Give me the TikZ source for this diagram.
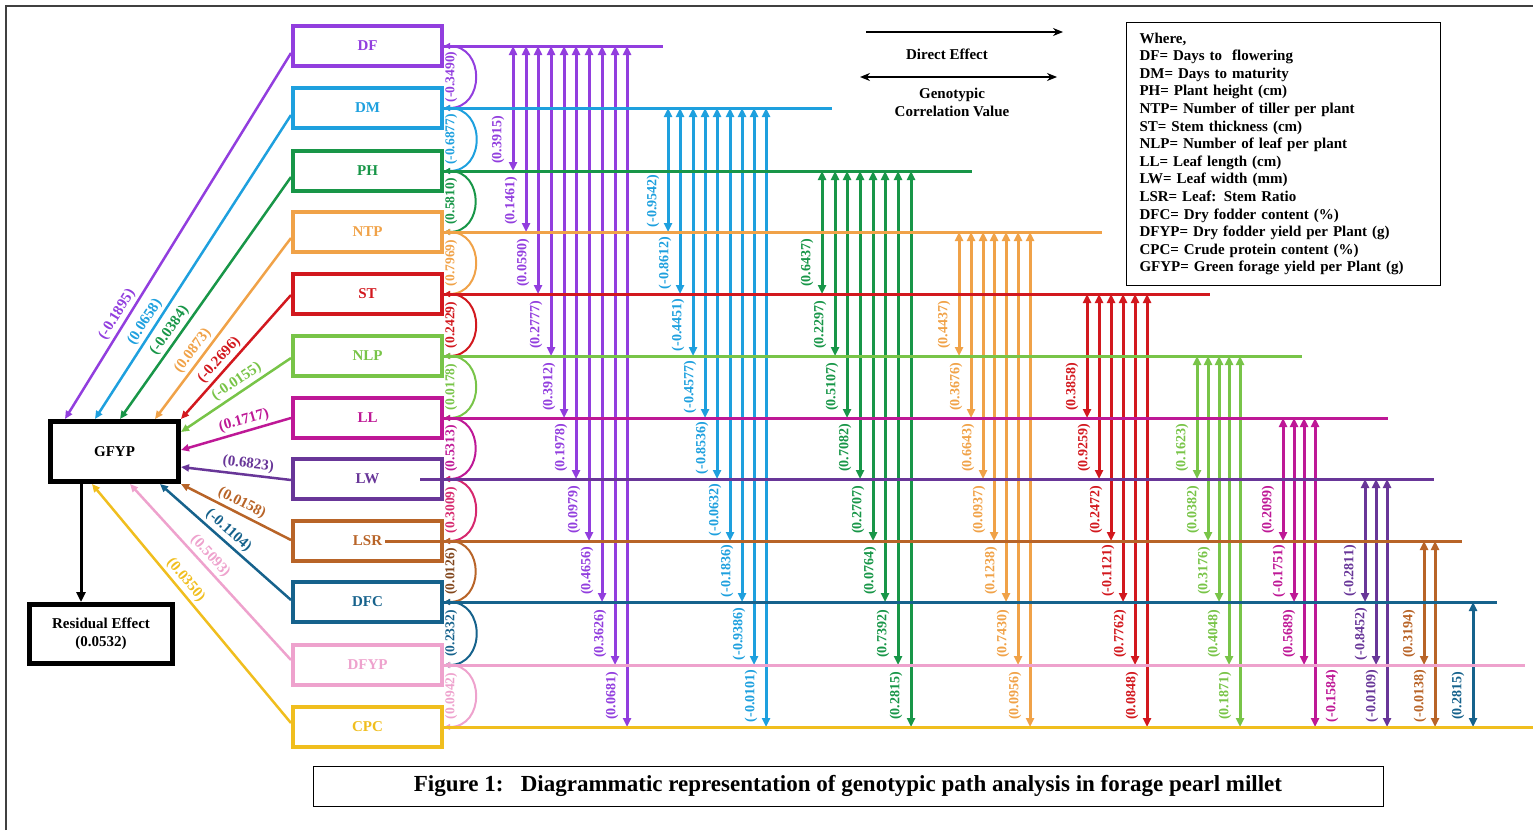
\documentclass[tikz,border=0pt]{standalone}
\usepackage{fontspec}
\setmainfont{Liberation Serif}
\usetikzlibrary{arrows.meta}
\usetikzlibrary{calc}
\definecolor{cDF}{RGB}{146,62,222}
\definecolor{cDM}{RGB}{30,160,222}
\definecolor{cPH}{RGB}{24,150,72}
\definecolor{cNTP}{RGB}{240,162,72}
\definecolor{cST}{RGB}{210,24,30}
\definecolor{cNLP}{RGB}{120,196,72}
\definecolor{cLL}{RGB}{190,24,150}
\definecolor{cLW}{RGB}{104,54,152}
\definecolor{cLWarc}{RGB}{214,40,110}
\definecolor{cLSR}{RGB}{184,100,40}
\definecolor{cDFC}{RGB}{22,98,140}
\definecolor{cDFYP}{RGB}{238,162,205}
\definecolor{cCPC}{RGB}{240,190,30}
% one correlation arrow of a column: colour, x, from, to, value
\newcommand{\pc}[5]{%
  \draw[corr=#1] (#2,0 |- #3) -- (#2,0 |- #4);
  \node[clab=#1] at ($(#2,0 |- #4)+(-15,-31)$) {(#5)};}

\begin{document}
\begin{tikzpicture}[x=1pt,y=-1pt,
    trait/.style={draw=#1,text=#1,line width=4pt,minimum width=149pt,minimum height=40pt,inner sep=0pt,font=\fontsize{15}{15}\selectfont\bfseries},
    hline/.style={draw=#1,line width=3pt},
    corr/.style={draw=#1,line width=3pt,{Triangle[length=9pt,width=8pt]}-{Triangle[length=9pt,width=8pt]}},
    clab/.style={text=#1,rotate=90,inner sep=0pt,font=\fontsize{14}{14}\selectfont\bfseries},
    gpath/.style={draw=#1,line width=2.5pt,-{Triangle[length=8pt,width=7pt]}},
    glab/.style={text=#1,sloped,above=2pt,inner sep=0.5pt,font=\fontsize{15}{15}\selectfont\bfseries},
    arcc/.style={draw=#1,line width=2pt,{Triangle[length=6pt,width=6pt]}-{Triangle[length=6pt,width=6pt]}},
    alab/.style={text=#1,rotate=90,inner sep=0pt,font=\fontsize{13.5}{13.5}\selectfont\bfseries}]

        \useasboundingbox (0,0) rectangle (1533,830);
        \draw[line width=1.5pt,black!75] (6,830) -- (6,6) -- (1533,6);

        \node[trait=cDF] (DF) at (367.5,46) {DF};
        \node[trait=cDM] (DM) at (367.5,108) {DM};
        \node[trait=cPH] (PH) at (367.5,171) {PH};
        \node[trait=cNTP] (NTP) at (367.5,232) {NTP};
        \node[trait=cST] (ST) at (367.5,294) {ST};
        \node[trait=cNLP] (NLP) at (367.5,356) {NLP};
        \node[trait=cLL] (LL) at (367.5,418) {LL};
        \node[trait=cLW] (LW) at (367.5,479) {LW};
        \node[trait=cLSR] (LSR) at (367.5,541) {LSR};
        \node[trait=cDFC] (DFC) at (367.5,602) {DFC};
        \node[trait=cDFYP] (DFYP) at (367.5,665) {DFYP};
        \node[trait=cCPC] (CPC) at (367.5,727) {CPC};

        \node[draw,line width=5pt,minimum width=128pt,minimum height=60pt,font=\fontsize{15}{15}\selectfont\bfseries] (GFYP) at (114.5,451.5) {GFYP};
        \node[draw,line width=5pt,minimum width=143pt,minimum height=59pt,align=center,font=\fontsize{15}{18}\selectfont\bfseries] (RE) at (101,634) {Residual Effect\\(0.0532)};
        \draw[line width=3pt,-{Triangle[length=10pt,width=9pt]}] (GFYP.south -| 81,0) -- (RE.north -| 81,0);

        \draw[gpath=cDF] ([yshift=-7pt]DF.west) -- ($(GFYP.north)+(-49.5,0)$) node[glab=cDF,pos=0.73] {(-0.1895)};
        \draw[gpath=cDM] ([yshift=-7pt]DM.west) -- ($(GFYP.north)+(-19.5,0)$) node[glab=cDM,pos=0.70] {(0.0658)};
        \draw[gpath=cPH] ([yshift=-6pt]PH.west) -- ($(GFYP.north)+(5.5,0)$) node[glab=cPH,pos=0.66] {(-0.0384)};
        \draw[gpath=cNTP] ([yshift=-6pt]NTP.west) -- ($(GFYP.north)+(40.5,0)$) node[glab=cNTP,pos=0.66] {(0.0873)};
        \draw[gpath=cST] ([yshift=-1pt]ST.west) -- (GFYP.north east) node[glab=cST,pos=0.58] {(-0.2696)};
        \draw[gpath=cNLP] ([yshift=-2pt]NLP.west) -- ($(GFYP.east)+(0,-19.5)$) node[glab=cNLP,pos=0.44] {(-0.0155)};
        \draw[gpath=cLL] (LL.west) -- ($(GFYP.east)+(0,-1.5)$) node[glab=cLL,pos=0.40] {(0.1717)};
        \draw[gpath=cLW] ([yshift=-1pt]LW.west) -- ($(GFYP.east)+(0,15.5)$) node[glab=cLW,pos=0.40] {(0.6823)};
        \draw[gpath=cLSR] ([yshift=1pt]LSR.west) -- (GFYP.south east) node[glab=cLSR,pos=0.49] {(0.0158)};
        \draw[gpath=cDFC] ([yshift=2pt]DFC.west) -- ($(GFYP.south)+(45.5,0)$) node[glab=cDFC,pos=0.53] {(-0.1104)};
        \draw[gpath=cDFYP] ([yshift=5pt]DFYP.west) -- ($(GFYP.south)+(15.5,0)$) node[glab=cDFYP,pos=0.55] {(0.5093)};
        \draw[gpath=cCPC] ([yshift=4pt]CPC.west) -- ($(GFYP.south)+(-22.5,0)$) node[glab=cCPC,pos=0.57] {(0.0350)};

        \draw[arcc=cDF] (DF.east) to[out=0,in=0,looseness=1.7] (DM.east);
        \draw[arcc=cDM] (DM.east) to[out=0,in=0,looseness=1.7] (PH.east);
        \draw[arcc=cPH] (PH.east) to[out=0,in=0,looseness=1.7] (NTP.east);
        \draw[arcc=cNTP] (NTP.east) to[out=0,in=0,looseness=1.7] (ST.east);
        \draw[arcc=cST] (ST.east) to[out=0,in=0,looseness=1.7] (NLP.east);
        \draw[arcc=cNLP] (NLP.east) to[out=0,in=0,looseness=1.7] (LL.east);
        \draw[arcc=cLL] (LL.east) to[out=0,in=0,looseness=1.7] (LW.east);
        \draw[arcc=cLWarc] (LW.east) to[out=0,in=0,looseness=1.7] (LSR.east);
        \draw[arcc=cLSR] (LSR.east) to[out=0,in=0,looseness=1.7] (DFC.east);
        \draw[arcc=cDFC] (DFC.east) to[out=0,in=0,looseness=1.7] (DFYP.east);
        \draw[arcc=cDFYP] (DFYP.east) to[out=0,in=0,looseness=1.7] (CPC.east);

        \node[alab=cDF] at ($(DF.east)!0.5!(DM.east)+(7,0)$) {(-0.3490)};
        \node[alab=cDM] at ($(DM.east)!0.5!(PH.east)+(7,0)$) {(-0.6877)};
        \node[alab=cPH] at ($(PH.east)!0.5!(NTP.east)+(7,0)$) {(0.5810)};
        \node[alab=cNTP] at ($(NTP.east)!0.5!(ST.east)+(7,0)$) {(0.7969)};
        \node[alab=cST] at ($(ST.east)!0.5!(NLP.east)+(7,0)$) {(0.2429)};
        \node[alab=cNLP] at ($(NLP.east)!0.5!(LL.east)+(7,0)$) {(0.0178)};
        \node[alab=cLL] at ($(LL.east)!0.5!(LW.east)+(7,0)$) {(0.5313)};
        \node[alab=cLWarc] at ($(LW.east)!0.5!(LSR.east)+(7,0)$) {(0.3009)};
        \node[alab=cLSR!70!black] at ($(LSR.east)!0.5!(DFC.east)+(7,0)$) {(0.0126)};
        \node[alab=cDFC] at ($(DFC.east)!0.5!(DFYP.east)+(7,0)$) {(0.2332)};
        \node[alab=cDFYP] at ($(DFYP.east)!0.5!(CPC.east)+(7,0)$) {(0.0942)};

        \pc{cDF}{513}{DF}{PH}{0.3915}
        \pc{cDF}{526}{DF}{NTP}{0.1461}
        \pc{cDF}{538}{DF}{ST}{0.0590}
        \pc{cDF}{551}{DF}{NLP}{0.2777}
        \pc{cDF}{564}{DF}{LL}{0.3912}
        \pc{cDF}{576}{DF}{LW}{0.1978}
        \pc{cDF}{589}{DF}{LSR}{0.0979}
        \pc{cDF}{602}{DF}{DFC}{0.4656}
        \pc{cDF}{615}{DF}{DFYP}{0.3626}
        \pc{cDF}{627}{DF}{CPC}{0.0681}

        \pc{cDM}{668}{DM}{NTP}{-0.9542}
        \pc{cDM}{680}{DM}{ST}{-0.8612}
        \pc{cDM}{693}{DM}{NLP}{-0.4451}
        \pc{cDM}{705}{DM}{LL}{-0.4577}
        \pc{cDM}{717}{DM}{LW}{-0.8536}
        \pc{cDM}{730}{DM}{LSR}{-0.0632}
        \pc{cDM}{742}{DM}{DFC}{-0.1836}
        \pc{cDM}{754}{DM}{DFYP}{-0.9386}
        \pc{cDM}{766}{DM}{CPC}{-0.0101}

        \pc{cPH}{822}{PH}{ST}{0.6437}
        \pc{cPH}{835}{PH}{NLP}{0.2297}
        \pc{cPH}{847}{PH}{LL}{0.5107}
        \pc{cPH}{860}{PH}{LW}{0.7082}
        \pc{cPH}{873}{PH}{LSR}{0.2707}
        \pc{cPH}{885}{PH}{DFC}{0.0764}
        \pc{cPH}{898}{PH}{DFYP}{0.7392}
        \pc{cPH}{911}{PH}{CPC}{0.2815}

        \pc{cNTP}{959}{NTP}{NLP}{0.4437}
        \pc{cNTP}{971}{NTP}{LL}{0.3676}
        \pc{cNTP}{983}{NTP}{LW}{0.6643}
        \pc{cNTP}{994}{NTP}{LSR}{0.0937}
        \pc{cNTP}{1006}{NTP}{DFC}{0.1238}
        \pc{cNTP}{1018}{NTP}{DFYP}{0.7430}
        \pc{cNTP}{1030}{NTP}{CPC}{0.0956}

        \pc{cST}{1087}{ST}{LL}{0.3858}
        \pc{cST}{1099}{ST}{LW}{0.9259}
        \pc{cST}{1111}{ST}{LSR}{0.2472}
        \pc{cST}{1123}{ST}{DFC}{-0.1121}
        \pc{cST}{1135}{ST}{DFYP}{0.7762}
        \pc{cST}{1147}{ST}{CPC}{0.0848}

        \pc{cNLP}{1197}{NLP}{LW}{0.1623}
        \pc{cNLP}{1208}{NLP}{LSR}{0.0382}
        \pc{cNLP}{1219}{NLP}{DFC}{0.3176}
        \pc{cNLP}{1229}{NLP}{DFYP}{0.4048}
        \pc{cNLP}{1240}{NLP}{CPC}{0.1871}

        \pc{cLL}{1283}{LL}{LSR}{0.2099}
        \pc{cLL}{1294}{LL}{DFC}{-0.1751}
        \pc{cLL}{1304}{LL}{DFYP}{0.5689}
        \draw[corr=cLL] (1315,0 |- LL) -- (1315,0 |- CPC);
        \node[clab=cLL] at ($(1315,0 |- CPC)+(17,-31)$) {(-0.1584)};

        \pc{cLW}{1365}{LW}{DFC}{-0.2811}
        \pc{cLW}{1376}{LW}{DFYP}{-0.8452}
        \pc{cLW}{1387}{LW}{CPC}{-0.0109}

        \pc{cLSR}{1424}{LSR}{DFYP}{0.3194}
        \pc{cLSR}{1435}{LSR}{CPC}{-0.0138}

        \pc{cDFC}{1473}{DFC}{CPC}{0.2815}

        \draw[hline=cDF] (DF.east) -- (663,0 |- DF);
        \draw[hline=cDM] (DM.east) -- (832,0 |- DM);
        \draw[hline=cPH] (PH.east) -- (972,0 |- PH);
        \draw[hline=cNTP] (NTP.east) -- (1102,0 |- NTP);
        \draw[hline=cST] (ST.east) -- (1210,0 |- ST);
        \draw[hline=cNLP] (NLP.east) -- (1302,0 |- NLP);
        \draw[hline=cLL] (LL.east) -- (1388,0 |- LL);
        \draw[hline=cLW] (420,0 |- LW) -- (1434,0 |- LW);
        \draw[hline=cLSR] (385,0 |- LSR) -- (1462,0 |- LSR);
        \draw[hline=cDFC] (DFC.east) -- (1497,0 |- DFC);
        \draw[hline=cDFYP] (DFYP.east) -- (1525,0 |- DFYP);
        \draw[hline=cCPC] (CPC.east) -- (1533,0 |- CPC);

        \coordinate (de1) at (866,32);
        \coordinate (de2) at (1063,32);
        \draw[line width=1.3pt,-{Stealth[length=10pt,width=8pt]}] (de1) -- (de2);
        \node[font=\fontsize{15}{15}\selectfont\bfseries] (detext) at (947,54) {Direct Effect};
        \coordinate (gc1) at (860,77);
        \coordinate (gc2) at (1057,77);
        \draw[line width=1.3pt,{Stealth[length=10pt,width=8pt]}-{Stealth[length=10pt,width=8pt]}] (gc1) -- (gc2);
        \node[align=center,font=\fontsize{15}{18}\selectfont\bfseries] (gctext) at (952,102) {Genotypic\\Correlation Value};

        \node[draw,line width=1pt,anchor=north west,text width=288pt,inner xsep=13pt,inner ysep=0pt,minimum height=263pt,align=left,font=\fontsize{15}{17.6}\selectfont\bfseries] (where) at (1126,22) {Where,\\DF= Days to\ \ flowering\\DM= Days to maturity\\PH= Plant height (cm)\\NTP= Number of tiller per plant\\ST= Stem thickness (cm)\\NLP= Number of leaf per plant\\LL= Leaf length (cm)\\LW= Leaf width (mm)\\LSR= Leaf: Stem Ratio\\DFC= Dry fodder content (\%)\\DFYP= Dry fodder yield per Plant (g)\\CPC= Crude protein content (\%)\\GFYP= Green forage yield per Plant (g)};

        \node[draw,line width=1pt,minimum width=1070pt,minimum height=40pt,font=\fontsize{23}{23}\selectfont\bfseries] (cap) at (848,786) {Figure 1:\ \ \ Diagrammatic representation of genotypic path analysis in forage pearl millet};

    \end{tikzpicture}
\end{document}
